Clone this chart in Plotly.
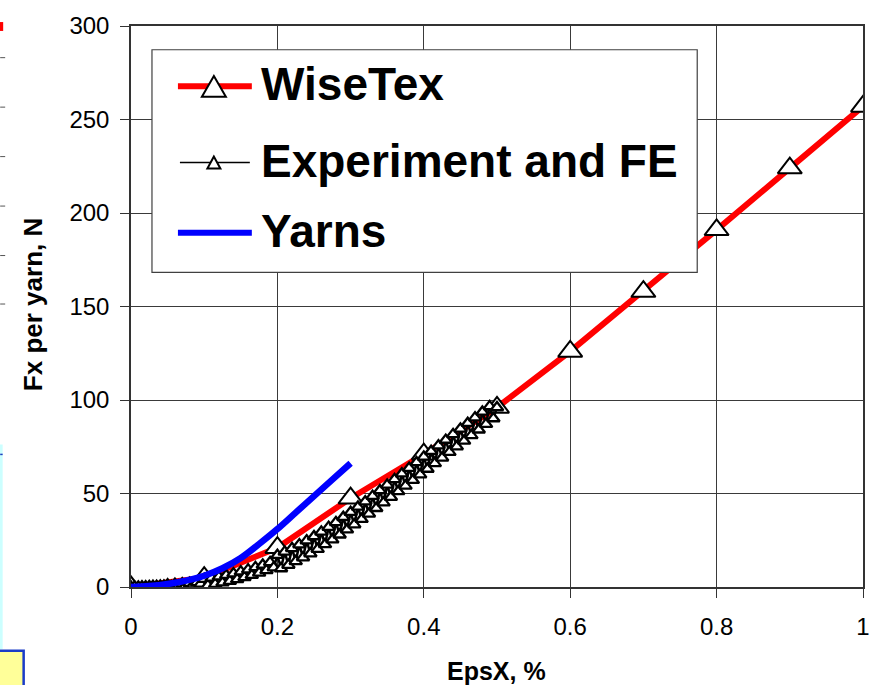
import plotly.graph_objects as go

# ---------------- data ----------------
wisetex_x = [0.0, 0.1, 0.2, 0.3, 0.4, 0.5, 0.6, 0.7, 0.8, 0.9, 1.0]
wisetex_y = [0.0, 5.0, 21.0, 47.5, 71.0, 96.0, 126.0, 158.0, 191.0, 224.0, 257.0]

exp_x = [0.000, 0.005, 0.010, 0.015, 0.020, 0.025, 0.030, 0.035, 0.040, 0.045,
         0.050, 0.055, 0.060, 0.065, 0.070, 0.075, 0.080, 0.085, 0.090, 0.095,
         0.100, 0.105, 0.110, 0.115, 0.120, 0.125, 0.130, 0.135, 0.140, 0.145,
         0.150, 0.155, 0.160, 0.165, 0.170, 0.175, 0.180, 0.185, 0.190, 0.195,
         0.200, 0.205, 0.210, 0.215, 0.220, 0.225, 0.230, 0.235, 0.240, 0.245,
         0.250, 0.255, 0.260, 0.265, 0.270, 0.275, 0.280, 0.285, 0.290, 0.295,
         0.300, 0.305, 0.310, 0.315, 0.320, 0.325, 0.330, 0.335, 0.340, 0.345,
         0.350, 0.355, 0.360, 0.365, 0.370, 0.375, 0.380, 0.385, 0.390, 0.395,
         0.400, 0.405, 0.410, 0.415, 0.420, 0.425, 0.430, 0.435, 0.440, 0.445,
         0.450, 0.455, 0.460, 0.465, 0.470, 0.475, 0.480, 0.485, 0.490, 0.495,
         0.500]
exp_y = [0.0, 0.05, 0.1, 0.17, 0.25, 0.32, 0.4, 0.47, 0.55, 0.65,
         1.25, 0.37, 1.5, 0.62, 1.75, 0.9, 2.05, 1.22, 2.4, 1.65,
         4.2, 0.9, 4.8, 1.55, 5.5, 2.3, 6.3, 3.15, 7.2, 4.1,
         8.2, 5.15, 9.3, 6.3, 10.5, 7.55, 11.8, 8.9, 13.2, 10.4,
         17.0, 9.9, 18.8, 11.75, 20.7, 13.7, 22.7, 15.75, 24.8, 17.9,
         27.0, 20.25, 29.5, 22.75, 32.0, 25.3, 34.6, 27.95, 37.3, 30.65,
         40.0, 33.4, 42.8, 36.25, 45.7, 39.15, 48.6, 42.1, 51.6, 45.1,
         54.6, 48.1, 57.6, 51.1, 60.6, 54.1, 63.6, 57.1, 66.6, 60.1,
         69.6, 63.1, 72.6, 66.1, 75.6, 69.1, 78.6, 72.1, 81.6, 75.1,
         84.6, 78.1, 87.6, 81.1, 90.6, 84.1, 93.6, 87.1, 96.6, 90.1,
         96.0]

yarns_x = [0.0, 0.025, 0.05, 0.075, 0.1, 0.125, 0.15, 0.175, 0.2, 0.225, 0.25, 0.275, 0.3]
yarns_y = [0.0, 0.5, 1.6, 3.4, 6.0, 10.0, 15.5, 23.0, 31.0, 39.8, 48.6, 57.4, 66.2]

x_tick_vals = [0, 0.2, 0.4, 0.6, 0.8, 1]
x_tick_text = ["0", "0.2", "0.4", "0.6", "0.8", "1"]
y_tick_vals = [0, 50, 100, 150, 200, 250, 300]
y_tick_text = ["0", "50", "100", "150", "200", "250", "300"]

series_names = ["WiseTex", "Experiment and FE", "Yarns"]
x_title = "EpsX, %"
y_title = "Fx per yarn, N"

# ---------------- layout geometry (pixels) ----------------
W, H = 882, 685
ML, MR, MT, MB = 131, 18, 20, 98
PW = W - ML - MR
PH = H - MT - MB
FONT = "Liberation Sans, Arial, sans-serif"


def px_x(p):
    return (p - ML) / PW


def px_y(p):
    return (H - MB - p) / PH


fig = go.Figure()

fig.add_trace(go.Scatter(
    x=wisetex_x, y=wisetex_y, mode="lines+markers", name=series_names[0],
    line=dict(color="#ff0000", width=6),
    marker=dict(symbol="triangle-up", size=21, color="white",
                line=dict(color="black", width=2)),
))
fig.add_trace(go.Scatter(
    x=exp_x, y=exp_y, mode="lines+markers", name=series_names[1],
    line=dict(color="black", width=2.5),
    marker=dict(symbol="triangle-up", size=11, color="white",
                line=dict(color="black", width=2.3)),
))
fig.add_trace(go.Scatter(
    x=yarns_x, y=yarns_y, mode="lines", name=series_names[2],
    line=dict(color="#0000ff", width=6.5, shape="spline"),
))

fig.update_xaxes(
    range=[0, 1], tickmode="array", tickvals=x_tick_vals, ticktext=x_tick_text,
    showgrid=True, gridcolor="#3a3a3a", gridwidth=1,
    showline=True, linecolor="#333333", linewidth=1.5, mirror=True,
    ticks="outside", ticklen=9, tickcolor="#333333", tickwidth=1,
    tickfont=dict(size=24, family=FONT, color="black"),
    ticklabelstandoff=8,
    zeroline=False, fixedrange=True,
)
fig.update_yaxes(
    range=[0, 300], tickmode="array", tickvals=y_tick_vals, ticktext=y_tick_text,
    showgrid=True, gridcolor="#3a3a3a", gridwidth=1,
    showline=True, linecolor="#333333", linewidth=1.5, mirror=True,
    ticks="outside", ticklen=9, tickcolor="#333333", tickwidth=1,
    tickfont=dict(size=24, family=FONT, color="black"),
    ticklabelstandoff=6,
    zeroline=False, fixedrange=True,
)

shapes = []
# left-edge fragments of neighbouring slide objects
shapes.append(dict(type="rect", xref="paper", yref="paper",
                   x0=px_x(-3), x1=px_x(2.5), y0=px_y(650), y1=px_y(443),
                   fillcolor="#ccffff", line=dict(width=0), layer="below"))
shapes.append(dict(type="line", xref="paper", yref="paper",
                   x0=px_x(0), x1=px_x(2.5), y0=px_y(453), y1=px_y(453),
                   line=dict(color="#2040c0", width=1.5), layer="below"))
shapes.append(dict(type="rect", xref="paper", yref="paper",
                   x0=px_x(-4), x1=px_x(23.5), y0=px_y(690), y1=px_y(651.5),
                   fillcolor="#ffff99", line=dict(color="#1a3cc8", width=2.5), layer="below"))
shapes.append(dict(type="rect", xref="paper", yref="paper",
                   x0=px_x(-2), x1=px_x(3), y0=px_y(25), y1=px_y(16),
                   fillcolor="#ff0000", line=dict(width=0), layer="below"))
for yy in [52, 102, 152, 202, 252, 301]:
    shapes.append(dict(type="line", xref="paper", yref="paper",
                       x0=px_x(0), x1=px_x(5), y0=px_y(yy), y1=px_y(yy),
                       line=dict(color="#555555", width=1), layer="below"))

# legend box
LX0, LX1, LY0, LY1 = 152, 698, 44, 269
shapes.append(dict(type="rect", xref="paper", yref="paper",
                   x0=px_x(LX0), x1=px_x(LX1), y0=px_y(LY1), y1=px_y(LY0),
                   fillcolor="white", line=dict(color="#404040", width=1.2), layer="above"))


def tri_path(cx, cy, w, h):
    return ("M {:.5f},{:.5f} L {:.5f},{:.5f} L {:.5f},{:.5f} Z".format(
        px_x(cx), px_y(cy - h / 2), px_x(cx - w / 2), px_y(cy + h / 2),
        px_x(cx + w / 2), px_y(cy + h / 2)))


legend_rows = [81, 158, 229]
# WiseTex sample
shapes.append(dict(type="line", xref="paper", yref="paper",
                   x0=px_x(178), x1=px_x(252), y0=px_y(legend_rows[0]), y1=px_y(legend_rows[0]),
                   line=dict(color="#ff0000", width=6), layer="above"))
shapes.append(dict(type="path", xref="paper", yref="paper", path=tri_path(214, legend_rows[0], 24, 21),
                   fillcolor="white", line=dict(color="black", width=2), layer="above"))
# Experiment sample
shapes.append(dict(type="line", xref="paper", yref="paper",
                   x0=px_x(180), x1=px_x(250), y0=px_y(legend_rows[1]), y1=px_y(legend_rows[1]),
                   line=dict(color="black", width=1.5), layer="above"))
shapes.append(dict(type="path", xref="paper", yref="paper", path=tri_path(214, legend_rows[1], 13, 12),
                   fillcolor="white", line=dict(color="black", width=2), layer="above"))
# Yarns sample
shapes.append(dict(type="line", xref="paper", yref="paper",
                   x0=px_x(178), x1=px_x(252), y0=px_y(legend_rows[2]), y1=px_y(legend_rows[2]),
                   line=dict(color="#0000ff", width=6), layer="above"))

annotations = []
for name, row in zip(series_names, legend_rows):
    annotations.append(dict(text=name, xref="paper", yref="paper",
                            x=px_x(259), y=px_y(row - 2), xanchor="left", yanchor="middle",
                            showarrow=False,
                            font=dict(size=46, family=FONT, color="black", weight="bold")))

annotations.append(dict(text=x_title, xref="paper", yref="paper",
                        x=px_x(497), y=px_y(672), xanchor="center", yanchor="middle",
                        showarrow=False,
                        font=dict(size=25, family=FONT, color="black", weight="bold")))
annotations.append(dict(text=y_title, xref="paper", yref="paper", textangle=-90,
                        x=px_x(33), y=px_y(302), xanchor="center", yanchor="middle",
                        showarrow=False,
                        font=dict(size=26, family=FONT, color="black", weight="bold")))

fig.update_layout(
    width=W, height=H,
    margin=dict(l=ML, r=MR, t=MT, b=MB, pad=0),
    paper_bgcolor="white", plot_bgcolor="white",
    showlegend=False,
    font=dict(family=FONT, color="black"),
    shapes=shapes, annotations=annotations,
)

fig.write_html("out.html", include_plotlyjs=True, config={"displayModeBar": False},
               post_script="document.body.style.margin='0px';document.body.style.overflow='hidden';")
